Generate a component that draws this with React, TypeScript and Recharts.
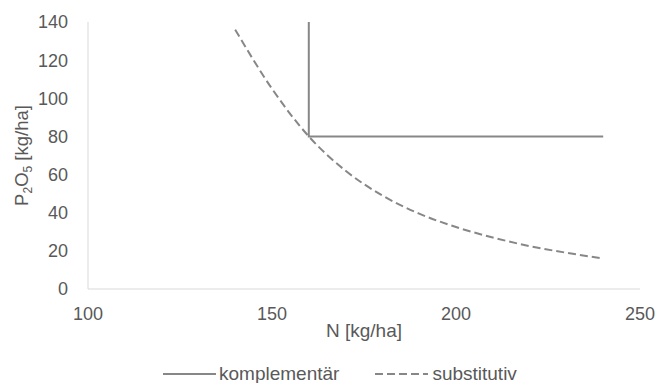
import { Legend, Line, LineChart, XAxis, YAxis } from "recharts";

// complementary (limitational) isoquant: corner at N=160, P2O5=80
const komplN = [160, 160, 240];
const komplP = [140, 80, 80];

// substitutive isoquant
const substN = [140, 150, 160, 170, 180, 190, 200, 210, 220, 230, 240];
const substP = [136, 105, 80, 62, 49, 39.5, 32.5, 27, 22.5, 19, 16];

const xTicks = [100, 150, 200, 250];
const yTicks = [0, 20, 40, 60, 80, 100, 120, 140];

const komplData = komplN.map((n, i) => ({ n, p: komplP[i] }));
const substData = substN.map((n, i) => ({ n, p: substP[i] }));

const FONT = "'Liberation Sans', Arial, sans-serif";
const TEXT = "#595959";
const LINE = "#878787";

const YLabel = ({ viewBox }: any) => {
  const cy = viewBox.y + viewBox.height / 2;
  const x = 28;
  return (
    <text
      x={x}
      y={cy}
      transform={`rotate(-90, ${x}, ${cy})`}
      textAnchor="middle"
      fill={TEXT}
      fontSize={18.5}
      fontFamily={FONT}
    >
      <tspan>P</tspan>
      <tspan fontSize={12} dy={4}>2</tspan>
      <tspan dy={-4}>O</tspan>
      <tspan fontSize={12} dy={4}>5</tspan>
      <tspan dy={-4}> [kg/ha]</tspan>
    </text>
  );
};

const LegendBox = () => (
  <div
    style={{
      display: "flex",
      alignItems: "center",
      fontFamily: FONT,
      fontSize: 19,
      lineHeight: "18px",
      color: TEXT,
      height: 18,
    }}
  >
    <svg width={54} height={10} style={{ marginRight: 2 }}>
      <line x1={0} y1={5} x2={53} y2={5} stroke={LINE} strokeWidth={2} />
    </svg>
    <span>komplementär</span>
    <svg width={54} height={10} style={{ marginLeft: 36, marginRight: 3 }}>
      <line x1={0} y1={5} x2={53} y2={5} stroke={LINE} strokeWidth={2} strokeDasharray="8 4" />
    </svg>
    <span>substitutiv</span>
  </div>
);

export default function App() {
  return (
    <div style={{ position: "absolute", left: 0, top: 0, background: "#fff" }}>
      <LineChart width={657} height={383} margin={{ top: 22, right: 17, bottom: 0, left: 0 }}>
        <XAxis
          type="number"
          dataKey="n"
          domain={[100, 250]}
          ticks={xTicks}
          allowDuplicatedCategory={false}
          height={76}
          tickLine={false}
          tickMargin={12}
          axisLine={{ stroke: "#d9d9d9" }}
          tick={{ fill: TEXT, fontSize: 18, fontFamily: FONT }}
          label={{
            value: "N [kg/ha]",
            position: "insideBottom",
            offset: 28,
            fill: TEXT,
            fontSize: 19,
            fontFamily: FONT,
          }}
        />
        <YAxis
          type="number"
          dataKey="p"
          domain={[0, 140]}
          ticks={yTicks}
          width={88}
          tickLine={false}
          tickMargin={14}
          axisLine={{ stroke: "#d9d9d9" }}
          tick={{ fill: TEXT, fontSize: 18, fontFamily: FONT }}
          label={<YLabel />}
        />
        <Legend
          verticalAlign="bottom"
          content={<LegendBox />}
          wrapperStyle={{ left: 163, top: 365, width: "auto" }}
        />
        <Line
          data={komplData}
          dataKey="p"
          name="komplementär"
          type="linear"
          stroke={LINE}
          strokeWidth={2}
          dot={false}
          isAnimationActive={false}
        />
        <Line
          data={substData}
          dataKey="p"
          name="substitutiv"
          type="monotone"
          stroke={LINE}
          strokeWidth={2}
          strokeDasharray="8 4"
          dot={false}
          isAnimationActive={false}
        />
      </LineChart>
    </div>
  );
}
